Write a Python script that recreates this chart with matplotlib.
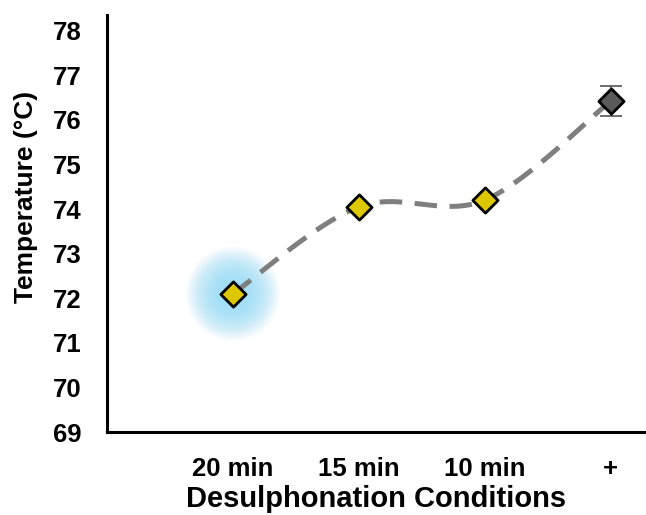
"""Temperature vs desulphonation conditions"""
import numpy as np
import matplotlib
matplotlib.use("Agg")
import matplotlib.pyplot as plt

plt.rcParams["font.family"] = ["Liberation Sans", "DejaVu Sans"]
plt.rcParams["font.weight"] = "bold"

conditions = ["20 min", "15 min", "10 min", "+"]
temperature = [72.1, 74.05, 74.2, 76.42]
errors = [0.0, 0.0, 0.0, 0.33]


def smooth_curve(x, y, n=40):
    """Catmull-Rom style smoothing (like Excel's smoothed line)"""
    px = [x[0]] + list(x) + [x[-1]]
    py = [y[0]] + list(y) + [y[-1]]
    xs, ys = [], []
    for i in range(1, len(px) - 2):
        t = np.linspace(0, 1, n)
        p0, p1, p2, p3 = [np.array([px[j], py[j]]) for j in range(i - 1, i + 3)]
        c1 = p1 + (p2 - p0) / 6
        c2 = p2 - (p3 - p1) / 6
        pts = ((1 - t) ** 3)[:, None] * p1 + (3 * (1 - t) ** 2 * t)[:, None] * c1 \
            + (3 * (1 - t) * t ** 2)[:, None] * c2 + (t ** 3)[:, None] * p2
        xs.extend(pts[:, 0])
        ys.extend(pts[:, 1])
    return np.array(xs), np.array(ys)


x = np.arange(1, len(conditions) + 1)

fig = plt.figure(figsize=(6.46, 5.15), dpi=100)
ax = fig.add_axes([0.1656, 0.161, 0.8344, 0.81])

# glow around the first point
for s, a in zip(np.linspace(4600, 300, 14), np.linspace(0.05, 0.12, 14)):
    ax.scatter(x[0], temperature[0], s=s, color="#7fd6f7", alpha=a,
               edgecolors="none", zorder=1)

sx, sy = smooth_curve(x, temperature)
ax.plot(sx, sy, color="#7f7f7f", lw=3.6, dashes=(4.5, 2.5), zorder=2)

ax.errorbar(x[3], temperature[3], yerr=errors[3], fmt="none", ecolor="#555555",
            elinewidth=1.2, capsize=8, capthick=1.2, zorder=3)

ax.scatter(x[:3], temperature[:3], marker="D", s=165, color="#ddc800",
           edgecolors="black", linewidths=2, zorder=4)
ax.scatter(x[3], temperature[3], marker="D", s=165, color="#5a5a5a",
           edgecolors="black", linewidths=2, zorder=4)

ax.set_xlim(0, 4.28)
ax.set_ylim(69, 78.35)
ax.set_xticks(x)
ax.set_xticklabels(conditions)
ax.set_yticks(range(69, 79))
ax.tick_params(length=0, labelsize=18.5)
ax.tick_params(axis="x", pad=18)
ax.tick_params(axis="y", pad=18)
for spine in ["top", "right"]:
    ax.spines[spine].set_visible(False)
for spine in ["left", "bottom"]:
    ax.spines[spine].set_linewidth(2.2)

ax.set_xlabel("Desulphonation Conditions", fontsize=21, fontweight="bold", labelpad=3)
ax.set_ylabel("Temperature (°C)", fontsize=19, fontweight="bold")
ax.yaxis.set_label_coords(-0.128, 0.564)

fig.savefig("out.png", dpi=100)
